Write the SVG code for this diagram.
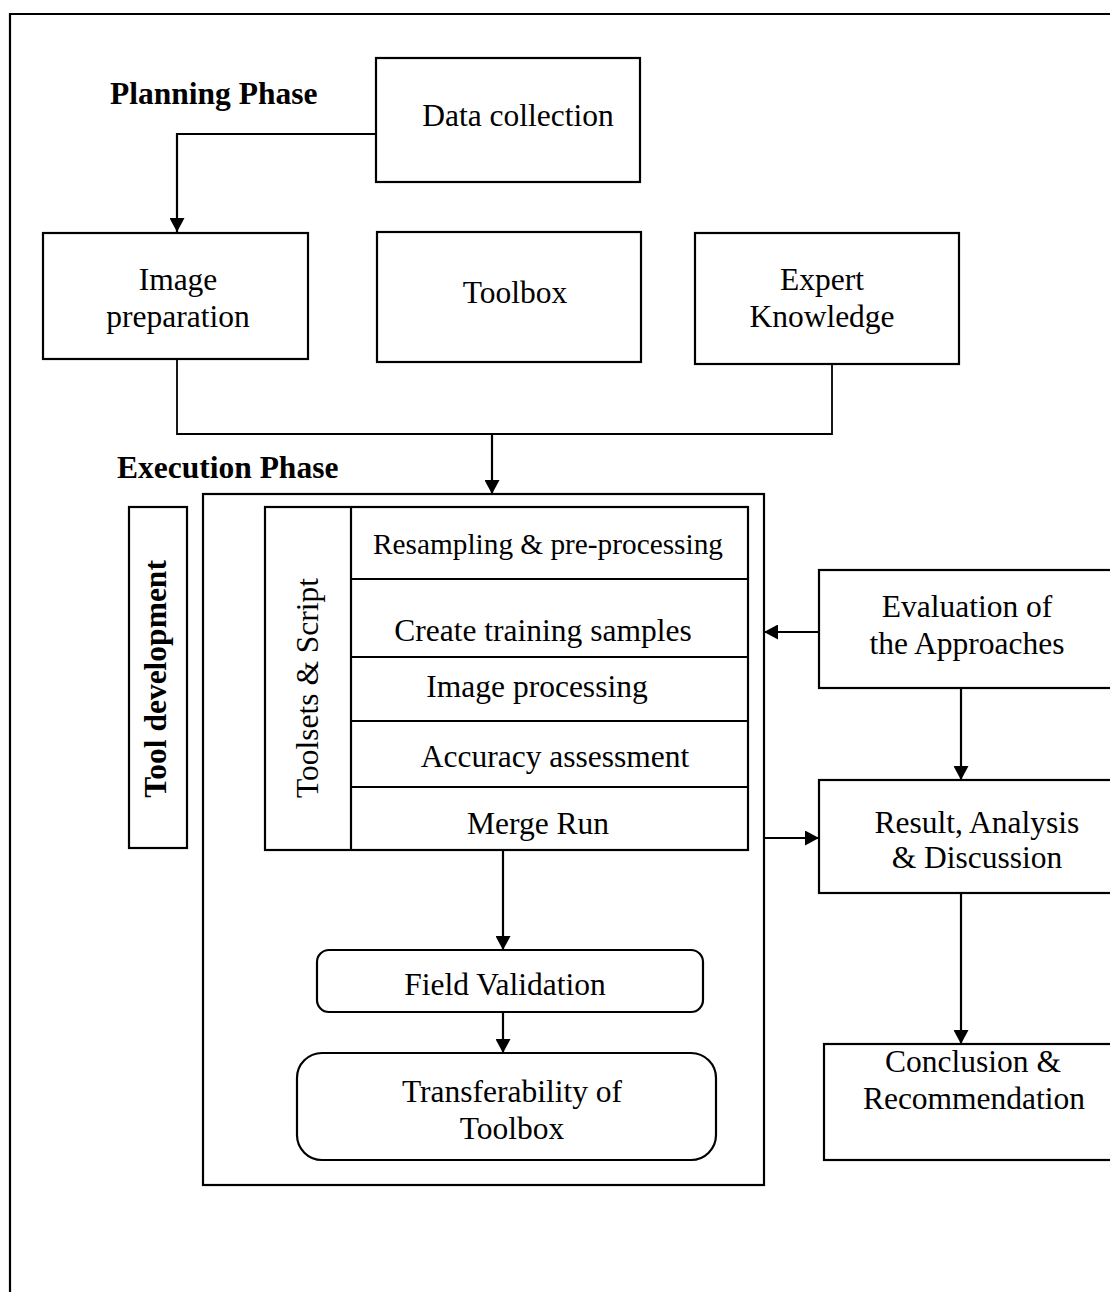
<svg xmlns="http://www.w3.org/2000/svg" width="1110" height="1292" viewBox="0 0 1110 1292">
  <style>
    .box { fill: #ffffff; stroke: #000000; stroke-width: 2.2; }
    .line { fill: none; stroke: #000000; stroke-width: 2.2; }
    .thin { fill: none; stroke: #000000; stroke-width: 1.8; }
    .arrow { fill: none; stroke: #000000; stroke-width: 2.2; marker-end: url(#head); }
    text { font-family: "Liberation Serif", "Times New Roman", serif; font-size: 31.5px; fill: #000000; text-anchor: middle; }
    .title { font-weight: bold; text-anchor: start; }
    .bold { font-weight: bold; }
    .small { font-size: 29.3px; }
  </style>
  <defs>
    <marker id="head" markerUnits="userSpaceOnUse" markerWidth="15" markerHeight="15" refX="14" refY="7.5" orient="auto">
      <path d="M0,0 L14,7.5 L0,15 Z" fill="#000000"/>
    </marker>
  </defs>

  <rect width="1110" height="1292" fill="#ffffff"/>

  <!-- page frame (left and top edges) -->
  <path class="line" d="M10,1292 V14 H1110"/>

  <!-- phase headings -->
  <text class="title" x="110" y="104">Planning Phase</text>
  <text class="title" x="117" y="478">Execution Phase</text>

  <!-- planning nodes -->
  <g id="data-collection">
    <rect class="box" x="376" y="58" width="264" height="124"/>
    <text x="518" y="126">Data collection</text>
  </g>
  <g id="image-preparation">
    <rect class="box" x="43" y="233" width="265" height="126"/>
    <text x="178" y="290">Image</text>
    <text x="178" y="327">preparation</text>
  </g>
  <g id="toolbox">
    <rect class="box" x="377" y="232" width="264" height="130"/>
    <text x="515" y="303">Toolbox</text>
  </g>
  <g id="expert-knowledge">
    <rect class="box" x="695" y="233" width="264" height="131"/>
    <text x="822" y="290">Expert</text>
    <text x="822" y="327">Knowledge</text>
  </g>

  <!-- execution container -->
  <g id="execution-phase">
    <rect class="box" x="203" y="494" width="561" height="691"/>
  </g>

  <g id="tool-development">
    <rect class="box" x="129" y="507" width="58" height="341"/>
    <text class="bold" transform="translate(166,679) rotate(-90)">Tool development</text>
  </g>

  <g id="toolsets-script">
    <rect class="box" x="265" y="507" width="483" height="343"/>
    <line class="line" x1="351" y1="507" x2="351" y2="850"/>
    <text transform="translate(318,688) rotate(-90)">Toolsets &amp; Script</text>
  </g>
  <g id="resampling">
    <text class="small" x="548" y="554">Resampling &amp; pre-processing</text>
  </g>
  <g id="training-samples">
    <line class="line" x1="351" y1="579" x2="748" y2="579"/>
    <text x="543" y="641">Create training samples</text>
  </g>
  <g id="image-processing">
    <line class="line" x1="351" y1="657" x2="748" y2="657"/>
    <text x="537" y="697">Image processing</text>
  </g>
  <g id="accuracy-assessment">
    <line class="line" x1="351" y1="721" x2="748" y2="721"/>
    <text x="555" y="767">Accuracy assessment</text>
  </g>
  <g id="merge-run">
    <line class="line" x1="351" y1="787" x2="748" y2="787"/>
    <text x="538" y="834">Merge Run</text>
  </g>

  <g id="field-validation">
    <rect class="box" x="317" y="950" width="386" height="62" rx="12" ry="12"/>
    <text x="505" y="995">Field Validation</text>
  </g>
  <g id="transferability">
    <rect class="box" x="297" y="1053" width="419" height="107" rx="25" ry="25"/>
    <text x="512" y="1102">Transferability of</text>
    <text x="512" y="1139">Toolbox</text>
  </g>

  <!-- right-hand column -->
  <g id="evaluation">
    <rect class="box" x="819" y="570" width="300" height="118"/>
    <text x="967" y="617">Evaluation of</text>
    <text x="967" y="654">the Approaches</text>
  </g>
  <g id="result-analysis">
    <rect class="box" x="819" y="780" width="300" height="113"/>
    <text x="977" y="833">Result, Analysis</text>
    <text x="977" y="868">&amp; Discussion</text>
  </g>
  <g id="conclusion">
    <rect class="box" x="824" y="1044" width="295" height="116"/>
    <text x="973" y="1072">Conclusion &amp;</text>
    <text x="974" y="1109">Recommendation</text>
  </g>

  <!-- connectors -->
  <g id="connectors">
    <path class="arrow" d="M376,134 H177 V232"/>
    <path class="thin" d="M177,359 V434 H832 V364"/>
    <path class="arrow" d="M492,434 V494"/>
    <path class="arrow" d="M819,632 H764"/>
    <path class="arrow" d="M961,688 V780"/>
    <path class="arrow" d="M764,838 H819"/>
    <path class="arrow" d="M961,893 V1044"/>
    <path class="arrow" d="M503,850 V950"/>
    <path class="arrow" d="M503,1012 V1053"/>
  </g>
</svg>
